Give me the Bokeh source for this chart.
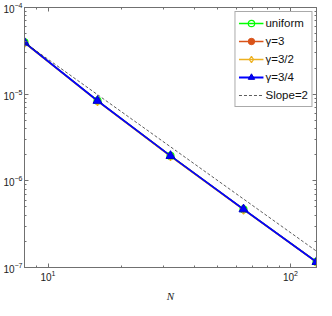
from bokeh.plotting import figure
from bokeh.models import LogAxis, FixedTicker, Legend, LegendItem, CustomJSTickFormatter
from bokeh.embed import file_html
from bokeh.resources import INLINE

N = [8, 16, 32, 64, 128]
err_uniform = [3.95e-5, 8.4e-6, 1.94e-6, 4.7e-7, 1.16e-7]
err_g3 = [3.95e-5, 8.4e-6, 1.94e-6, 4.7e-7, 1.16e-7]
err_g32 = [3.9e-5, 8.3e-6, 1.92e-6, 4.65e-7, 1.15e-7]
err_g34 = [3.95e-5, 8.4e-6, 1.94e-6, 4.7e-7, 1.16e-7]
slope_N = [8, 128]
slope_err = [3.95e-5, 3.95e-5 / 256]

x_major = [10, 100]
x_minor = [8, 9, 20, 30, 40, 50, 60, 70, 80, 90]
y_major = [1e-7, 1e-6, 1e-5, 1e-4]
y_minor = [k * 10.0 ** e for e in (-7, -6, -5) for k in range(2, 10)]

FONT = "Liberation Sans"
AX = "#707070"

p = figure(width=322, height=304, x_axis_type="log", y_axis_type="log",
           x_range=(8, 128), y_range=(1e-7, 1e-4),
           output_backend="svg", toolbar_location=None,
           min_border_left=20, min_border_right=6, min_border_top=7, min_border_bottom=10)
p.background_fill_color = "white"
p.border_fill_color = "white"
p.outline_line_color = AX
p.grid.visible = False

def style(ax, ticks, minor, labels=True):
    ax.ticker = FixedTicker(ticks=ticks, minor_ticks=minor)
    ax.axis_line_color = AX
    ax.major_tick_line_color = AX
    ax.minor_tick_line_color = AX
    ax.major_tick_in = 4
    ax.major_tick_out = 0
    ax.minor_tick_in = 2
    ax.minor_tick_out = 0
    ax.major_label_text_font = FONT
    ax.major_label_text_font_size = "10px"
    ax.major_label_text_color = "#222222"
    ax.major_label_standoff = 2
    if not labels:
        ax.formatter = CustomJSTickFormatter(code="return ''")
        ax.major_label_text_font_size = "1px"
        ax.major_label_standoff = 0

style(p.xaxis[0], x_major, x_minor)
style(p.yaxis[0], y_major, y_minor)
p.xaxis[0].axis_label = "N"
p.xaxis[0].axis_label_text_font = "Liberation Serif"
p.xaxis[0].axis_label_text_font_style = "italic"
p.xaxis[0].axis_label_text_font_size = "11px"
p.xaxis[0].axis_label_standoff = 6
p.xaxis[0].axis_label_text_color = "#222222"

ra = LogAxis()
style(ra, y_major, y_minor, labels=False)
p.add_layout(ra, "right")
ta = LogAxis()
style(ta, x_major, x_minor, labels=False)
p.add_layout(ta, "above")

GREEN = "#00ff00"
ORANGE = "#d95319"
YELLOW = "#edb120"
BLUE = "#0000ff"

l1 = p.line(N, err_uniform, line_color=GREEN, line_width=1.5)
m1 = p.scatter(N, err_uniform, marker="circle", size=7, line_color=GREEN, fill_color=None, line_width=1.2)
l2 = p.line(N, err_g3, line_color=ORANGE, line_width=1.5)
m2 = p.scatter(N, err_g3, marker="circle", size=5, line_color=ORANGE, fill_color=ORANGE)
l3 = p.line(N, err_g32, line_color=YELLOW, line_width=1.5)
m3 = p.scatter(N, err_g32, marker="diamond", size=9, line_color=YELLOW, fill_color=None, line_width=1.2)
l4 = p.line(N, err_g34, line_color=BLUE, line_width=1.8)
m4 = p.scatter(N, err_g34, marker="triangle", size=9, line_color="#0000cc", fill_color=BLUE, line_width=1)
l5 = p.line(slope_N, slope_err, line_color="#333333", line_width=0.8, line_dash="3 2")

legend = Legend(items=[
    LegendItem(label="uniform", renderers=[l1, m1]),
    LegendItem(label="\u03b3=3", renderers=[l2, m2]),
    LegendItem(label="\u03b3=3/2", renderers=[l3, m3]),
    LegendItem(label="\u03b3=3/4", renderers=[l4, m4]),
    LegendItem(label="Slope=2", renderers=[l5]),
], location="top_right")
legend.label_text_font = FONT
legend.label_text_font_size = "11.5px"
legend.label_text_color = "#111111"
legend.glyph_width = 25
legend.glyph_height = 16
legend.label_height = 16
legend.spacing = 2
legend.padding = 3
legend.margin = 4
legend.label_standoff = 2
legend.border_line_color = "#555555"
legend.border_line_width = 1
legend.background_fill_color = "white"
legend.background_fill_alpha = 1
p.add_layout(legend, "center")

open("out.html", "w").write(file_html(p, INLINE))
